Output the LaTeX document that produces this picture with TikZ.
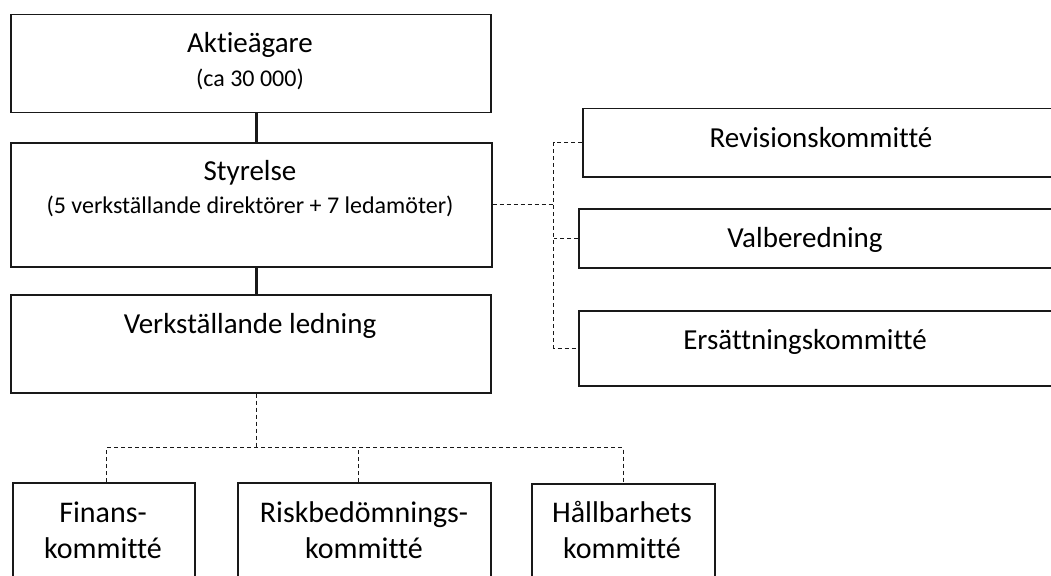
\documentclass[tikz,border=0pt]{standalone}
\usepackage{fontspec}
\setmainfont{Carlito}[Ligatures={NoCommon,NoRare,NoContextual}]
\begin{document}
\begin{tikzpicture}[x=1pt,y=-1pt,
  box/.style={draw=black!90, line width=1.5pt, fill=none, inner sep=0pt, anchor=north west},
  title/.style={font=\fontsize{29}{33}\selectfont, inner sep=0pt, anchor=base},
  sub/.style={font=\fontsize{24}{28}\selectfont, inner sep=0pt, anchor=base},
  small/.style={font=\fontsize{30}{34}\selectfont, inner sep=0pt, anchor=base},
  link/.style={black!90, line width=3pt},
  dlink/.style={black!90, line width=1pt, dash pattern=on 4pt off 3pt}]
\useasboundingbox (0,0) rectangle (1051,575);
\clip (0,0) rectangle (1051,575);

% main chain
\node[box, minimum width=480pt, minimum height=98pt]  (akt)  at (10,14)  {};
\node[box, minimum width=481pt, minimum height=124pt] (styr) at (10,142) {};
\node[box, minimum width=480pt, minimum height=98pt]  (verk) at (10,294) {};

\node[title] (aktT)  at (250,53)  {Aktieägare};
\node[sub]   (aktS)  at (250,87)  {(ca 30 000)};
\node[title] (styrT) at (250,180) {Styrelse};
\node[sub]   (styrS) at (250,213) {(5 verkställande direktörer + 7 ledamöter)};
\node[title] (verkT) at (250,333) {Verkställande ledning};

% board committees
\node[box, minimum width=490pt, minimum height=68pt] (rev) at (582,108) {};
\node[box, minimum width=494pt, minimum height=59pt] (val) at (578,208) {};
\node[box, minimum width=494pt, minimum height=75pt] (ers) at (578,310) {};
\node[title] (revT) at (821,147) {Revisionskommitté};
\node[title] (valT) at (805,247) {Valberedning};
\node[title] (ersT) at (805,349) {Ersättningskommitté};

% management committees
\node[box, minimum width=182pt, minimum height=130pt] (fin)  at (12,482)  {};
\node[box, minimum width=253pt, minimum height=130pt] (risk) at (237,482) {};
\node[box, minimum width=183pt, minimum height=130pt] (hall) at (531,483) {};
\node[small] (finA)  at (103,522) {Finans-};
\node[small] (finB)  at (103,558) {kommitté};
\node[small] (riskA) at (364,522) {Riskbedömnings-};
\node[small] (riskB) at (364,558) {kommitté};
\node[small] (hallA) at (622,522) {Hållbarhets};
\node[small] (hallB) at (622,558) {kommitté};

% solid reporting lines
\draw[link] ([xshift=6pt]akt.south) -- ([xshift=6pt]akt.south |- styr.north);
\draw[link] ([xshift=5pt]styr.south) -- ([xshift=5pt]styr.south |- verk.north);

% dashed links to board committees
\coordinate (bus) at ([xshift=61pt]styr.east);
\coordinate (busTop) at (bus |- rev.west);
\coordinate (busBot) at (bus |- ers.west);
\draw[dlink] (styr.east) -- (bus);
\draw[dlink] (rev.west) -- (busTop) -- (busBot) -- (ers.west);
\draw[dlink] (val.west) -- (bus |- val.west);

% dashed links to management committees
\coordinate (mTop) at ([xshift=6pt]verk.south);
\coordinate (mJoin) at ([yshift=-54pt]mTop);
\coordinate (mL) at ([xshift=3pt]fin.north |- mJoin);
\coordinate (mR) at (hall.north |- mJoin);
\draw[dlink] (mTop) -- (mJoin);
\draw[dlink] ([xshift=3pt]fin.north) -- (mL) -- (mR) -- (hall.north);
\draw[dlink] ([xshift=-6pt]risk.north) -- ([xshift=-6pt]risk.north |- mJoin);
\end{tikzpicture}
\end{document}
